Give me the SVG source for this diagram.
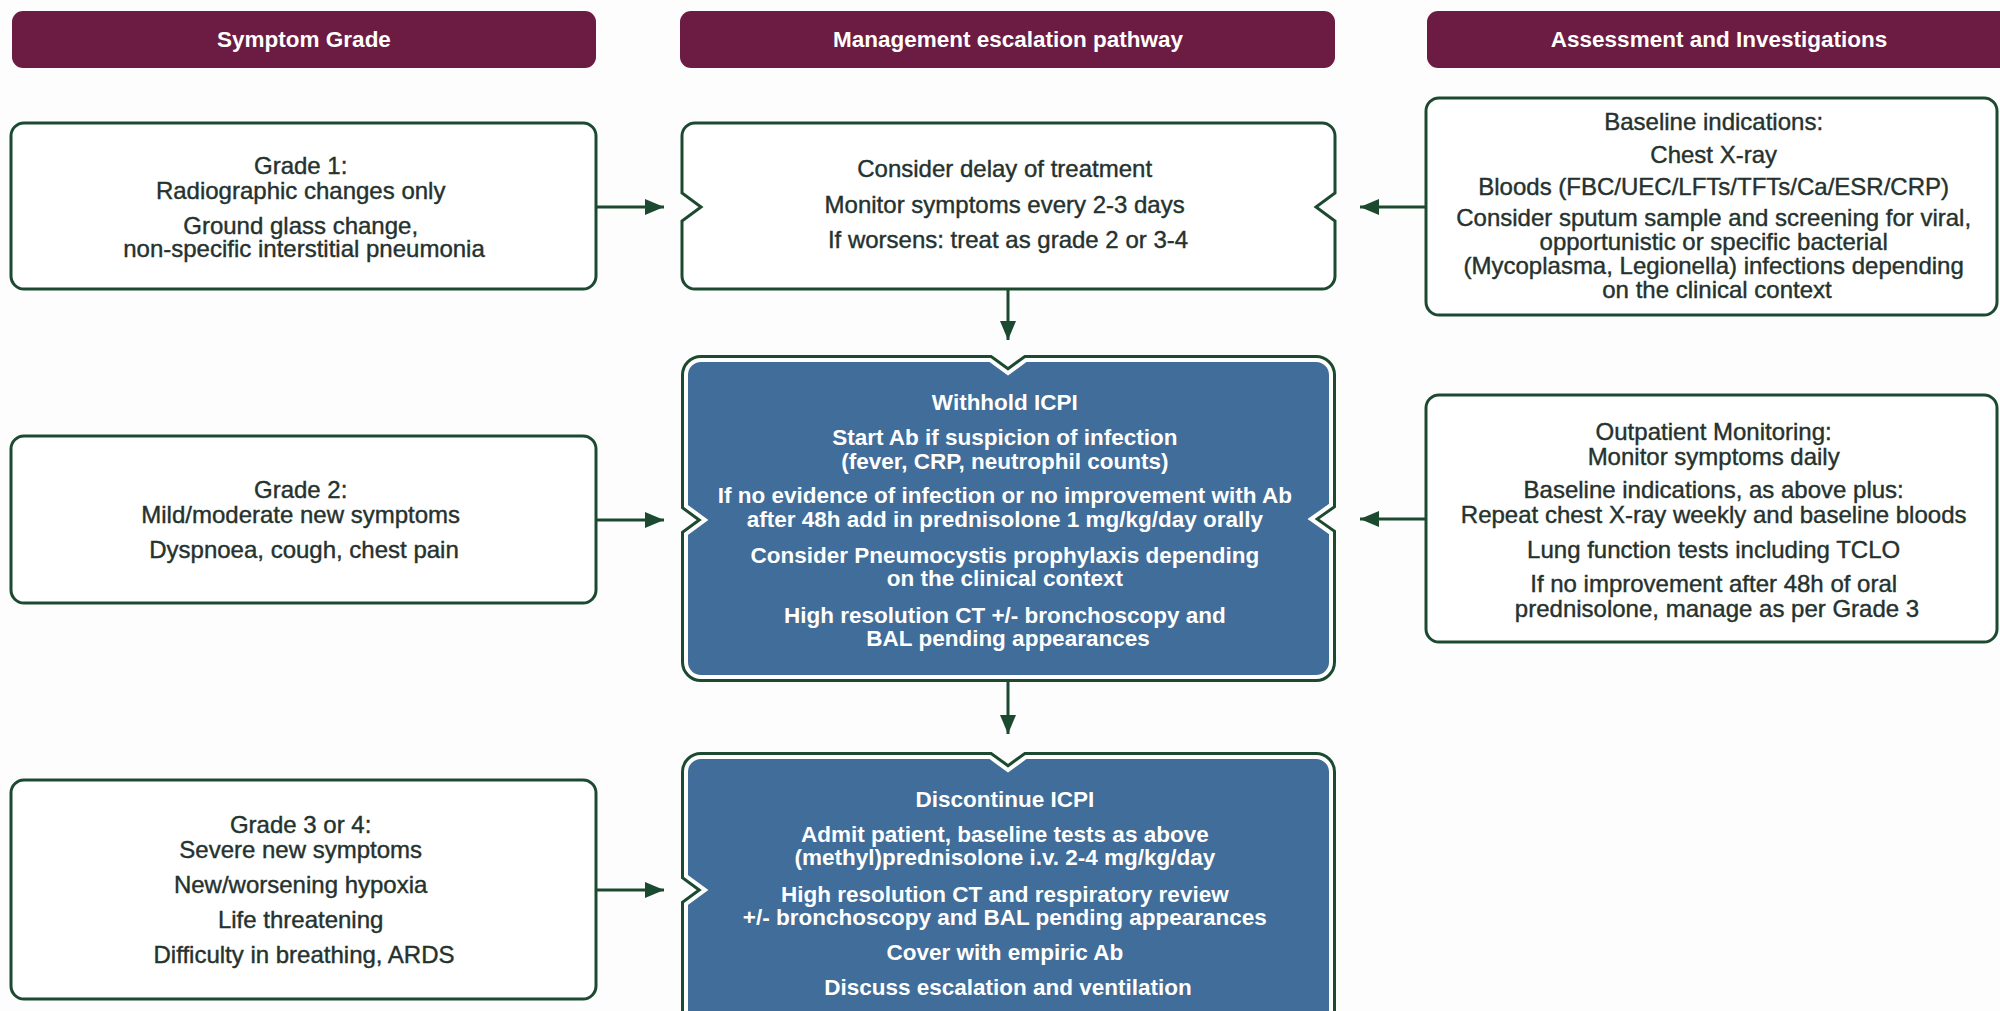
<svg xmlns="http://www.w3.org/2000/svg" width="2000" height="1011" viewBox="0 0 2000 1011">
  <defs>
    <style>
      .hdr { fill: #6c1c42; }
      .hdr-t { font-family: "Liberation Sans", Arial, sans-serif; font-weight: bold; font-size: 22.5px; fill: #ffffff; text-anchor: middle; }
      .box { fill: #ffffff; stroke: #1c4a30; stroke-width: 3; }
      .t { font-family: "Liberation Sans", Arial, sans-serif; font-size: 24px; fill: #25322e; stroke: #25322e; stroke-width: 0.4; text-anchor: middle; }
      .tw { font-family: "Liberation Sans", Arial, sans-serif; font-weight: bold; font-size: 22.5px; fill: #ffffff; text-anchor: middle; }
      .blue-rim { fill: none; stroke: #1c4a30; stroke-width: 10; stroke-linejoin: miter; }
      .blue-body { fill: #406d99; stroke: #ffffff; stroke-width: 4; stroke-linejoin: miter; }
      .conn { fill: none; stroke: #1c4a30; stroke-width: 3; marker-end: url(#arrow); }
    </style>
    <marker id="arrow" markerUnits="userSpaceOnUse" markerWidth="20" markerHeight="16" refX="19" refY="8" orient="auto">
      <path d="M0,0 L19,8 L0,16 Z" fill="#1c4a30"/>
    </marker>
  </defs>

  <rect width="2000" height="1011" fill="#fefdfd"/>

  <!-- column headers -->
  <g id="header-symptom">
    <rect class="hdr" x="12" y="11" width="584" height="57" rx="11"/>
    <text class="hdr-t" x="304" y="47">Symptom Grade</text>
  </g>
  <g id="header-management">
    <rect class="hdr" x="680" y="11" width="655" height="57" rx="11"/>
    <text class="hdr-t" x="1008" y="47">Management escalation pathway</text>
  </g>
  <g id="header-assessment">
    <rect class="hdr" x="1427" y="11" width="590" height="57" rx="11"/>
    <text class="hdr-t" x="1719" y="47">Assessment and Investigations</text>
  </g>

  <!-- symptom grades -->
  <g id="grade-1">
    <rect class="box" x="11" y="123" width="585" height="166" rx="13"/>
    <text class="t">
      <tspan x="304" y="174">Grade 1:</tspan>
      <tspan x="304" y="199">Radiographic changes only</tspan>
      <tspan x="304" y="234">Ground glass change,</tspan>
      <tspan x="304" y="257">non-specific interstitial pneumonia</tspan>
    </text>
  </g>
  <g id="grade-2">
    <rect class="box" x="11" y="436" width="585" height="167" rx="13"/>
    <text class="t">
      <tspan x="304" y="498">Grade 2:</tspan>
      <tspan x="304" y="523">Mild/moderate new symptoms</tspan>
      <tspan x="304" y="558">Dyspnoea, cough, chest pain</tspan>
    </text>
  </g>
  <g id="grade-3-4">
    <rect class="box" x="11" y="780" width="585" height="219" rx="13"/>
    <text class="t">
      <tspan x="304" y="833">Grade 3 or 4:</tspan>
      <tspan x="304" y="858">Severe new symptoms</tspan>
      <tspan x="304" y="893">New/worsening hypoxia</tspan>
      <tspan x="304" y="928">Life threatening</tspan>
      <tspan x="304" y="963">Difficulty in breathing, ARDS</tspan>
    </text>
  </g>

  <!-- management pathway -->
  <g id="manage-grade-1">
    <path class="box" d="M695,123 H1322 A13,13 0 0 1 1335,136 V193 L1316,207 L1335,221 V276 A13,13 0 0 1 1322,289 H695 A13,13 0 0 1 682,276 V221 L701,207 L682,193 V136 A13,13 0 0 1 695,123 Z"/>
    <text class="t">
      <tspan x="1008" y="177">Consider delay of treatment</tspan>
      <tspan x="1008" y="213">Monitor symptoms every 2-3 days</tspan>
      <tspan x="1008" y="248">If worsens: treat as grade 2 or 3-4</tspan>
    </text>
  </g>
  <g id="manage-grade-2">
    <path class="blue-rim" d="M701,360 H990 L1008,373 L1026,360 H1316 A15,15 0 0 1 1331,375 V505 L1311,519 L1331,533 V662 A15,15 0 0 1 1316,677 H701 A15,15 0 0 1 686,662 V534 L705,520 L686,506 V375 A15,15 0 0 1 701,360 Z"/>
    <path class="blue-body" d="M701,360 H990 L1008,373 L1026,360 H1316 A15,15 0 0 1 1331,375 V505 L1311,519 L1331,533 V662 A15,15 0 0 1 1316,677 H701 A15,15 0 0 1 686,662 V534 L705,520 L686,506 V375 A15,15 0 0 1 701,360 Z"/>
    <text class="tw">
      <tspan x="1008" y="410">Withhold ICPI</tspan>
      <tspan x="1008" y="445">Start Ab if suspicion of infection</tspan>
      <tspan x="1008" y="469">(fever, CRP, neutrophil counts)</tspan>
      <tspan x="1008" y="503">If no evidence of infection or no improvement with Ab</tspan>
      <tspan x="1008" y="527">after 48h add in prednisolone 1 mg/kg/day orally</tspan>
      <tspan x="1008" y="563">Consider Pneumocystis prophylaxis depending</tspan>
      <tspan x="1008" y="586">on the clinical context</tspan>
      <tspan x="1008" y="623">High resolution CT +/- bronchoscopy and</tspan>
      <tspan x="1008" y="646">BAL pending appearances</tspan>
    </text>
  </g>
  <g id="manage-grade-3-4">
    <path class="blue-rim" d="M701,757 H990 L1008,770 L1026,757 H1316 A15,15 0 0 1 1331,772 V1040 H686 V904 L705,890 L686,876 V772 A15,15 0 0 1 701,757 Z"/>
    <path class="blue-body" d="M701,757 H990 L1008,770 L1026,757 H1316 A15,15 0 0 1 1331,772 V1040 H686 V904 L705,890 L686,876 V772 A15,15 0 0 1 701,757 Z"/>
    <text class="tw">
      <tspan x="1008" y="807">Discontinue ICPI</tspan>
      <tspan x="1008" y="842">Admit patient, baseline tests as above</tspan>
      <tspan x="1008" y="865">(methyl)prednisolone i.v. 2-4 mg/kg/day</tspan>
      <tspan x="1008" y="902">High resolution CT and respiratory review</tspan>
      <tspan x="1008" y="925">+/- bronchoscopy and BAL pending appearances</tspan>
      <tspan x="1008" y="960">Cover with empiric Ab</tspan>
      <tspan x="1008" y="995">Discuss escalation and ventilation</tspan>
    </text>
  </g>

  <!-- assessment and investigations -->
  <g id="assess-baseline">
    <rect class="box" x="1426" y="98" width="571" height="217" rx="13"/>
    <text class="t">
      <tspan x="1717" y="130">Baseline indications:</tspan>
      <tspan x="1717" y="163">Chest X-ray</tspan>
      <tspan x="1717" y="195">Bloods (FBC/UEC/LFTs/TFTs/Ca/ESR/CRP)</tspan>
      <tspan x="1717" y="226">Consider sputum sample and screening for viral,</tspan>
      <tspan x="1717" y="250">opportunistic or specific bacterial</tspan>
      <tspan x="1717" y="274">(Mycoplasma, Legionella) infections depending</tspan>
      <tspan x="1717" y="298">on the clinical context</tspan>
    </text>
  </g>
  <g id="assess-outpatient">
    <rect class="box" x="1426" y="395" width="571" height="247" rx="13"/>
    <text class="t">
      <tspan x="1717" y="440">Outpatient Monitoring:</tspan>
      <tspan x="1717" y="465">Monitor symptoms daily</tspan>
      <tspan x="1717" y="498">Baseline indications, as above plus:</tspan>
      <tspan x="1717" y="523">Repeat chest X-ray weekly and baseline bloods</tspan>
      <tspan x="1717" y="558">Lung function tests including TCLO</tspan>
      <tspan x="1717" y="592">If no improvement after 48h of oral</tspan>
      <tspan x="1717" y="617">prednisolone, manage as per Grade 3</tspan>
    </text>
  </g>

  <!-- connectors -->
  <g id="connectors">
    <line class="conn" x1="596" y1="207" x2="664" y2="207"/>
    <line class="conn" x1="1426" y1="207" x2="1360" y2="207"/>
    <line class="conn" x1="1008" y1="289" x2="1008" y2="340"/>
    <line class="conn" x1="596" y1="520" x2="664" y2="520"/>
    <line class="conn" x1="1426" y1="519" x2="1360" y2="519"/>
    <line class="conn" x1="1008" y1="682" x2="1008" y2="734"/>
    <line class="conn" x1="596" y1="890" x2="664" y2="890"/>
  </g>
</svg>
